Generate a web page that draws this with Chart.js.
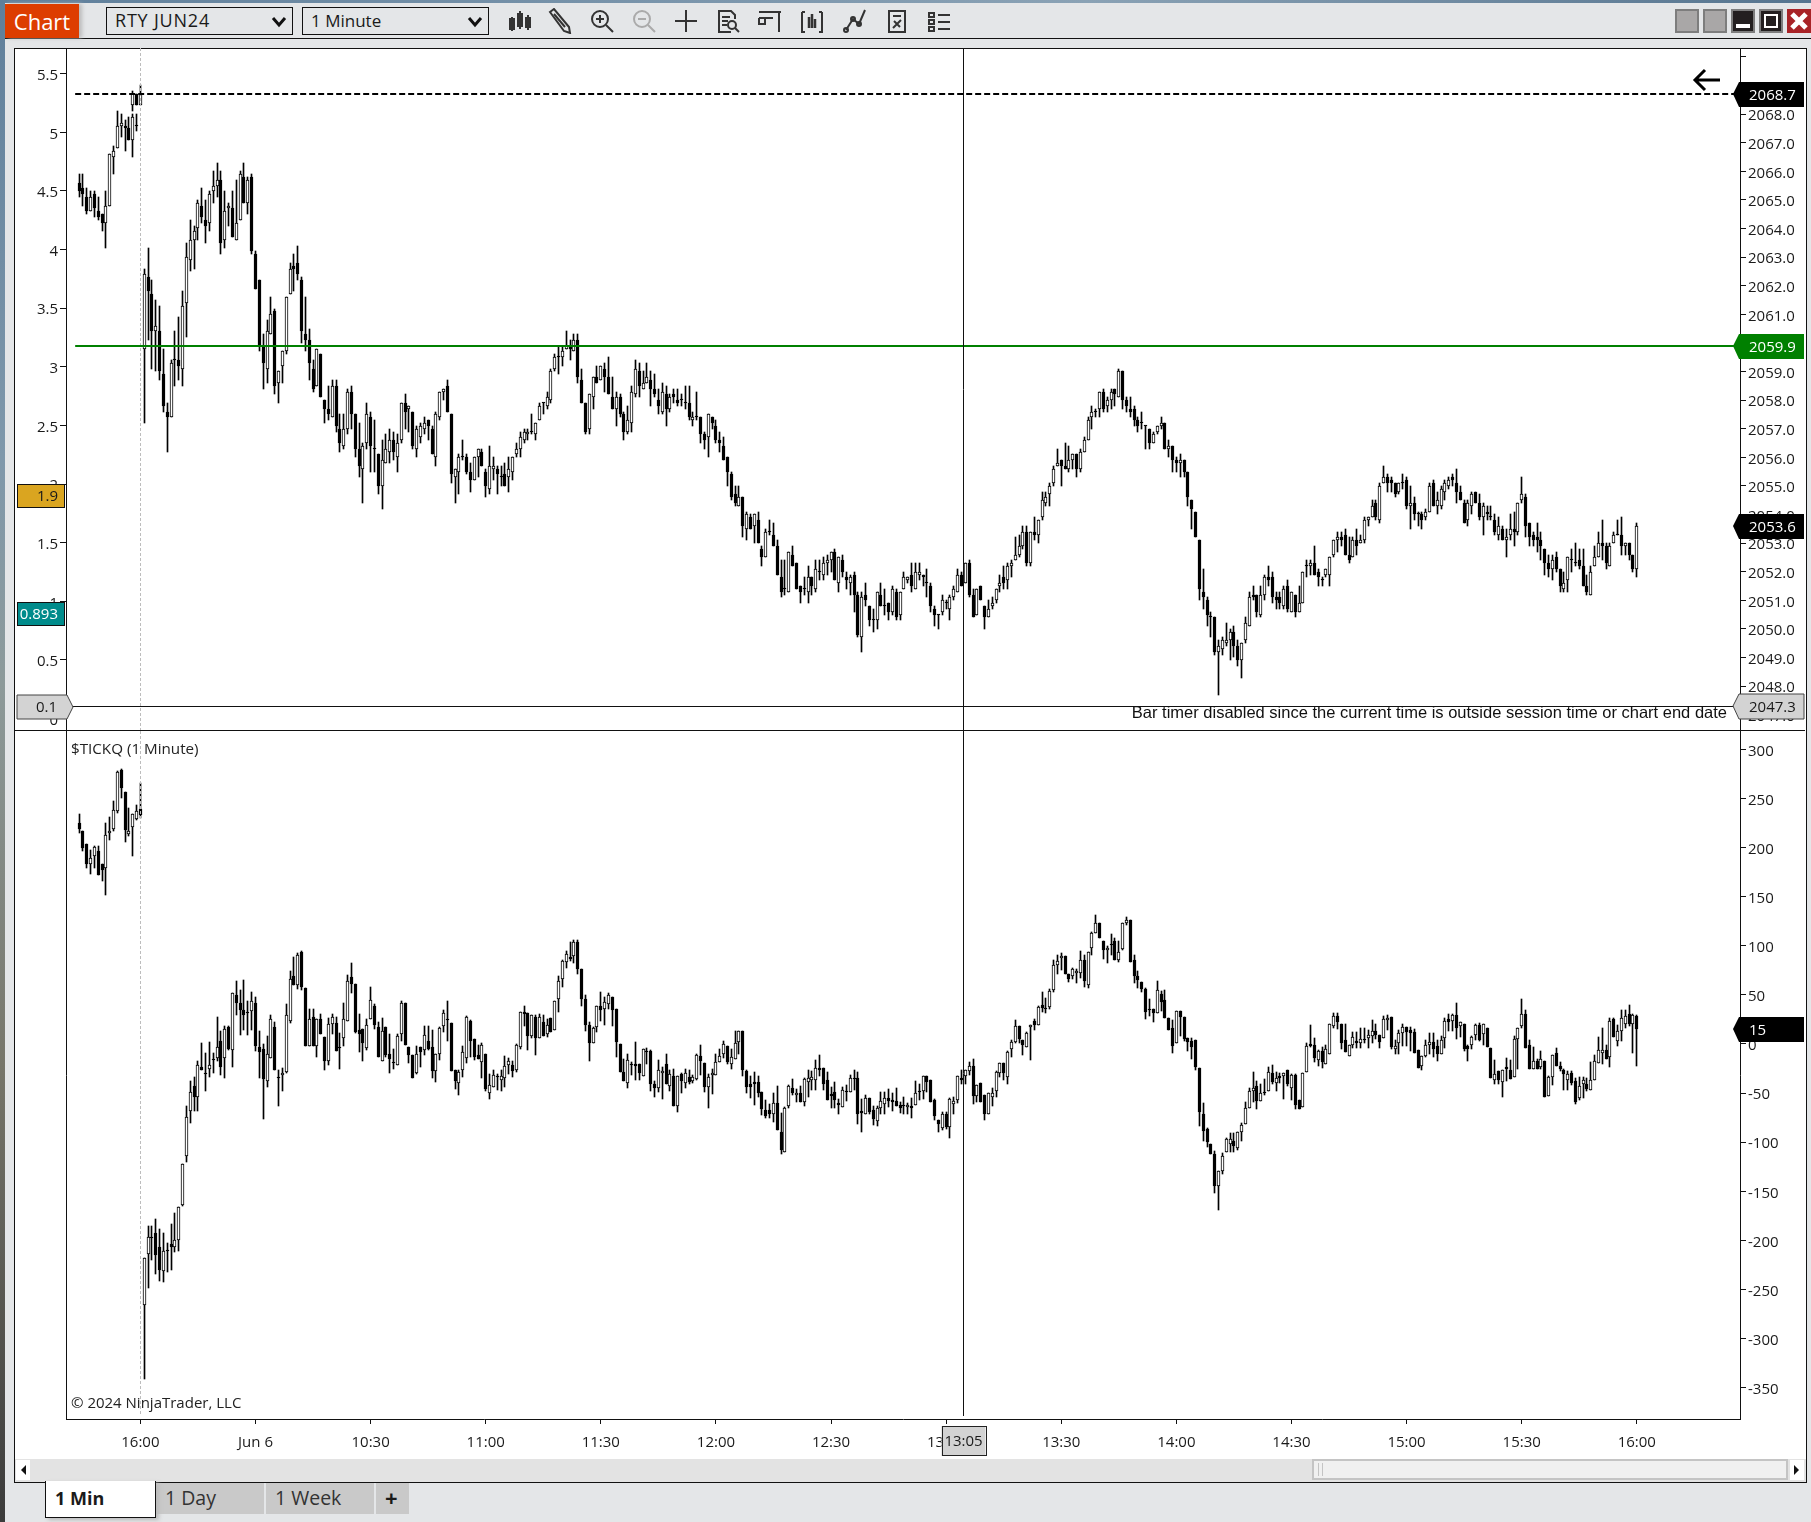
<!DOCTYPE html>
<html>
<head>
<meta charset="utf-8">
<title>RTY JUN24</title>
<script src="https://cdn.jsdelivr.net/npm/chart.js@4"></script>
<style>
html, body { margin: 0; padding: 0; }
body { width: 1811px; height: 1522px; position: relative; overflow: hidden; background: #e4e6e8; font-family: "Open Sans", sans-serif; color: #1a1a1a; }
.abs { position: absolute; box-sizing: border-box; }
#edgeLeft { left: 0; top: 0; width: 5px; height: 1522px; background: linear-gradient(#5f7f9b, #7f98ab 30%, #8d9a9a 45%, #77766a 70%, #3b3b3b); }
#edgeTop { left: 0; top: 0; width: 1811px; height: 3px; background: linear-gradient(90deg, #5f7f9b, #8aa2b5 60%, #55748f); }
#toolLine { left: 5px; top: 38px; width: 1806px; height: 1px; background: #111; }
#chartBtn { left: 5px; top: 4px; width: 74px; height: 34px; background: #dd3d00; color: #fff; font-size: 22px; line-height: 34px; text-align: center; box-shadow: 3px 0 4px #bbb; }
.pick { top: 7px; height: 28px; border: 1px solid #111; font-size: 17px; line-height: 25px; padding-left: 8px; background: #e4e6e8; }
.pick svg { position: absolute; right: 5px; top: 7px; }
#frame { left: 14px; top: 48px; width: 1793px; height: 1435px; border: 1px solid #111; background: #fff; }
#scrollBand { left: 15px; top: 1459px; width: 1791px; height: 23px; background: #e3e3e3; }
#thumb { left: 1312px; top: 1459px; width: 476px; height: 21px; background: #f0f0f0; border: 2px solid #c4c4c4; }
#thumb div { position: absolute; left: 4px; top: 2px; width: 5px; height: 13px; border-left: 1px solid #c4c4c4; border-right: 1px solid #c4c4c4; box-sizing: border-box; }
.arrowBox { top: 1460px; width: 14px; height: 20px; background: #fff; }
.arrowBox svg { position: absolute; left: 3px; top: 4px; }
.tab { top: 1483px; height: 31px; background: #c9c9c9; font-size: 19.5px; line-height: 29px; padding-left: 9px; }
#tabMin { left: 45px; top: 1481px; width: 111px; height: 37px; background: #fff; border: 1px solid #111; border-top: none; font-weight: 700; font-size: 18px; line-height: 34px; box-shadow: 3px 2px 4px #bbb; z-index: 2; }
canvas { position: absolute; }
.note { font-size: 15px; white-space: nowrap; color: #222; line-height: 18px; }
.winBtn { top: 9px; width: 24px; height: 24px; border: 2px solid #7d7d7d; }
.icon { position: absolute; top: 8px; width: 26px; height: 26px; fill: none; stroke: #333; stroke-width: 2; }
</style>
</head>
<body>
<div class="abs" id="edgeLeft"></div>
<div class="abs" id="edgeTop"></div>
<div class="abs" id="toolLine"></div>
<div class="abs" id="chartBtn">Chart</div>
<div class="abs pick" style="left:106px;width:187px;font-size:18px;letter-spacing:0.8px">RTY JUN24<svg width="16" height="14" viewBox="0 0 16 14"><path d="M2 3l6 7 6-7" fill="none" stroke="#111" stroke-width="3"/></svg></div>
<div class="abs pick" style="left:302px;width:187px">1 Minute<svg width="16" height="14" viewBox="0 0 16 14"><path d="M2 3l6 7 6-7" fill="none" stroke="#111" stroke-width="3"/></svg></div>
<svg class="icon" style="left:507px" viewBox="0 0 26 26"><path d="M5 9v14M13 3v18M21 7v15" stroke-width="2"/><path d="M3 11h4v10H3zM11 6h4v12h-4zM19 10h4v9h-4z" fill="#333"/></svg>
<svg class="icon" style="left:547px" viewBox="0 0 26 26"><path d="M3 4l4-3 15 18 1 6-6-2z" stroke-width="2"/><path d="M7 6l11 13"/></svg>
<svg class="icon" style="left:589px" viewBox="0 0 26 26"><circle cx="11" cy="11" r="8"/><path d="M17 17l7 7M7 11h8M11 7v8"/></svg>
<svg class="icon" style="left:631px;stroke:#aaa" viewBox="0 0 26 26"><circle cx="11" cy="11" r="8"/><path d="M17 17l7 7M7 11h8"/></svg>
<svg class="icon" style="left:673px" viewBox="0 0 26 26"><path d="M13 2v22M2 13h22"/></svg>
<svg class="icon" style="left:715px" viewBox="0 0 26 26"><path d="M16 24H4V3h12l4 4v4M7 9h8M7 13h6M7 17h5"/><circle cx="17" cy="17" r="4"/><path d="M20 20l4 4"/></svg>
<svg class="icon" style="left:757px" viewBox="0 0 26 26"><path d="M2 4h22M22 4v20M2 10h14M2 10v6h6v-6"/></svg>
<svg class="icon" style="left:799px" viewBox="0 0 26 26"><path d="M3 4h3M3 4v20h3M23 4h-3M23 4v20h-3"/><path d="M10 9v11M13 6v14M16 11v9" stroke-width="2.5"/></svg>
<svg class="icon" style="left:842px" viewBox="0 0 26 26"><path d="M4 22l7-11 6 5 6-14"/><circle cx="4" cy="22" r="2"/><circle cx="11" cy="11" r="2"/><circle cx="17" cy="16" r="2"/></svg>
<svg class="icon" style="left:884px" viewBox="0 0 26 26"><path d="M5 3h16v21H5zM9 8h8M9 20l8-8M10 13l6 6"/></svg>
<svg class="icon" style="left:926px" viewBox="0 0 26 26"><path d="M3 5h5v4H3zM3 12h5v4H3zM3 19h5v4H3zM12 7h12M12 14h12M12 21h12"/></svg>
<div class="abs winBtn" style="left:1675px;background:#a9a7a7"></div>
<div class="abs winBtn" style="left:1703px;background:#a9a7a7"></div>
<div class="abs winBtn" style="left:1731px;background:#231f20"><div class="abs" style="left:3px;top:13px;width:14px;height:4px;background:#fff"></div></div>
<div class="abs winBtn" style="left:1759px;background:#231f20"><div class="abs" style="left:3px;top:3px;width:14px;height:14px;border:2px solid #fff"></div></div>
<div class="abs winBtn" style="left:1787px;background:#a82327;border:none"><svg width="24" height="24" viewBox="0 0 24 24"><path d="M5 5l14 14M19 5L5 19" stroke="#fff" stroke-width="5"/></svg></div>
<div class="abs" id="frame"></div>
<div class="abs" id="scrollBand"></div>
<div class="abs" id="thumb"><div></div></div>
<div class="abs arrowBox" style="left:16px"><svg width="8" height="12" viewBox="0 0 8 12"><path d="M7 1L2 6l5 5z" fill="#111"/></svg></div>
<div class="abs arrowBox" style="left:1790px"><svg width="8" height="12" viewBox="0 0 8 12"><path d="M1 1l5 5-5 5z" fill="#111"/></svg></div>
<div class="abs tab" style="left:156px;width:108px;color:#333">1 Day</div>
<div class="abs tab" style="left:266px;width:108px;color:#333">1 Week</div>
<div class="abs tab" style="left:376px;width:33px;font-weight:700;font-size:22px;padding-left:9px">+</div>
<div class="abs tab" id="tabMin">1 Min</div>
<canvas id="priceChart" style="left:15px;top:48px" width="1790" height="683"></canvas>
<canvas id="tickChart" style="left:15px;top:731px" width="1790" height="728"></canvas>
<div class="abs note" style="left:71px;top:739px;font-size:15.2px">$TICKQ (1 Minute)</div>
<div class="abs note" style="left:71px;top:1393px">&copy; 2024 NinjaTrader, LLC</div>
<div class="abs note" style="right:84px;top:703px;font-family:'Liberation Sans',sans-serif;font-size:16.5px;color:#111">Bar timer disabled since the current time is outside session time or chart end date</div>
<svg class="abs" style="left:1692px;top:68px" width="30" height="24" viewBox="0 0 30 24"><path d="M28 12H3M13 2L3 12l10 10" fill="none" stroke="#000" stroke-width="3"/></svg>
<script>
'use strict';

// bars are [open, high, low, close], one row per minute
const rtyPrior = [
[2065.6,2065.9,2065.1,2065.3],[2065.4,2065.9,2064.8,2065.2],[2065.1,2065.4,2064.5,2064.6],[2064.6,2065.3,2064.6,2065.1],[2065.2,2065.3,2064.4,2064.7],[2064.6,2065.1,2064.3,2064.4],[2064.5,2064.5,2063.9,2064.2],[2064.2,2065.3,2063.3,2064.8],[2064.8,2066.6,2064.8,2066.6],[2066.5,2066.9,2065.9,2066.7],
[2066.8,2068.1,2066.8,2067.6],[2067.6,2068.0,2067.2,2067.7],[2067.6,2067.8,2066.7,2067.5],[2067.5,2067.9,2067.1,2067.1],[2067.1,2068.0,2066.5,2067.9],[2067.6,2068.0,2067.4,2067.6],[2068.3,2069.0,2068.3,2068.7]];
// two bars at the close overlap the ones above, same minute slots
const rtyLateSlots = [-2, -1];
const rtyLate = [[2068.3,2068.8,2068.1,2068.7],[2068.7,2068.7,2068.3,2068.3]];

const rtyMorning = [
[2059.8,2062.6,2057.2,2062.4],[2062.3,2063.3,2060.1,2061.8],[2061.7,2062.2,2059.1,2060.4],[2060.4,2061.5,2059.0,2060.6],[2060.4,2061.3,2058.7,2059.0],[2058.9,2059.8,2057.6,2057.8],[2057.6,2057.9,2056.2,2057.4],[2057.4,2059.4,2057.4,2059.3],[2059.4,2060.4,2058.5,2059.4],[2059.4,2060.9,2058.7,2059.2],
[2059.1,2061.8,2058.5,2061.3],[2061.4,2063.5,2060.2,2063.0],[2062.9,2064.3,2062.5,2063.6],[2063.6,2064.1,2062.6,2063.9],[2064.0,2065.0,2063.6,2064.9],[2064.8,2065.4,2064.2,2064.4],[2064.3,2065.0,2063.5,2064.1],[2064.2,2065.3,2063.9,2065.2],[2065.3,2066.0,2064.9,2065.5],[2065.5,2066.3,2065.1,2065.7],
[2065.7,2066.0,2063.1,2063.5],[2063.6,2065.3,2063.3,2064.6],[2064.7,2064.9,2064.1,2064.8],[2064.7,2065.3,2063.7,2063.7],[2063.6,2065.7,2063.6,2064.2],[2064.3,2066.0,2064.3,2065.9],[2065.8,2066.3,2064.9,2064.9],[2064.9,2065.8,2064.5,2065.7],[2065.8,2065.9,2063.1,2063.2],[2063.1,2063.2,2061.9,2061.9],
[2062.2,2062.2,2059.7,2059.9],[2059.9,2060.3,2058.4,2059.3],[2059.1,2060.8,2058.6,2060.4],[2060.3,2061.6,2060.3,2061.0],[2061.1,2061.2,2058.2,2058.5],[2058.6,2059.0,2057.9,2059.0],[2059.2,2059.7,2058.6,2059.7],[2059.7,2061.6,2059.6,2061.6],[2061.7,2062.8,2061.7,2062.6],[2062.7,2063.1,2061.8,2062.6],
[2062.8,2063.4,2062.2,2062.4],[2062.2,2062.3,2060.0,2060.4],[2060.3,2061.6,2059.7,2060.1],[2060.1,2060.5,2058.7,2059.3],[2059.1,2059.4,2058.3,2058.4],[2058.5,2059.8,2058.5,2059.8],[2059.6,2059.6,2058.1,2058.1],[2058.0,2058.0,2057.2,2057.7],[2057.7,2058.5,2057.3,2057.5],[2057.4,2058.7,2057.4,2058.5],
[2058.5,2058.7,2056.9,2057.1],[2057.0,2057.5,2056.2,2056.5],[2056.4,2057.5,2056.3,2057.0],[2057.0,2058.4,2056.8,2058.3],[2058.3,2058.5,2057.0,2057.5],[2057.5,2057.5,2056.0,2056.3],[2056.3,2057.2,2055.3,2055.7],[2055.6,2056.5,2054.4,2056.4],[2056.5,2057.9,2056.3,2057.5],[2057.4,2057.6,2055.5,2056.4],
[2056.3,2057.3,2055.5,2056.3],[2056.1,2056.1,2054.7,2055.0],[2055.0,2056.6,2054.2,2055.9],[2055.8,2056.8,2055.8,2056.3],[2056.2,2057.0,2055.8,2056.6],[2056.6,2056.9,2055.9,2056.2],[2056.0,2056.8,2055.5,2056.5],[2056.6,2057.9,2056.5,2057.9],[2057.9,2058.2,2057.0,2057.6],[2057.7,2057.8,2056.9,2057.8],
[2057.6,2057.6,2056.3,2056.4],[2056.3,2057.1,2056.0,2057.0],[2056.7,2057.2,2056.5,2057.1],[2057.0,2057.4,2056.8,2057.2],[2057.3,2057.3,2056.6,2057.1],[2057.0,2057.1,2056.1,2056.1],[2056.0,2057.6,2055.7,2057.5],[2057.4,2058.3,2057.3,2058.3],[2058.3,2058.4,2058.0,2058.4],[2058.5,2058.7,2057.6,2057.6],
[2057.5,2057.5,2055.1,2055.4],[2055.3,2055.6,2054.4,2055.6],[2055.5,2056.1,2054.7,2056.0],[2056.0,2056.6,2055.9,2056.0],[2056.0,2056.1,2055.4,2055.5],[2055.5,2055.8,2054.8,2055.2],[2055.2,2056.0,2055.2,2056.0],[2056.0,2056.3,2055.3,2056.3],[2056.2,2056.3,2055.7,2055.7],[2055.5,2055.6,2054.6,2055.0],
[2054.9,2056.4,2054.7,2055.7],[2055.6,2056.0,2055.2,2055.7],[2055.6,2055.7,2054.7,2055.4],[2055.3,2055.7,2055.0,2055.3],[2055.4,2055.8,2055.0,2055.0],[2055.3,2056.0,2054.8,2055.6],[2055.5,2056.0,2055.2,2056.0],[2056.1,2056.5,2056.0,2056.3],[2056.3,2056.9,2056.0,2056.7],[2056.6,2057.0,2056.5,2056.9],
[2056.8,2057.0,2056.6,2056.9],[2056.9,2057.5,2056.8,2056.9],[2056.8,2057.2,2056.6,2057.2],[2057.3,2057.9,2057.3,2057.8],[2057.9,2057.9,2057.5,2057.9],[2057.8,2058.3,2057.7,2058.1],[2058.0,2059.1,2057.9,2059.0],[2059.1,2059.6,2059.0,2059.5],[2059.5,2059.9,2058.9,2059.5],[2059.5,2059.9,2059.2,2059.7],
[2059.8,2060.4,2059.8,2059.9],[2059.9,2060.1,2059.4,2059.8],[2059.7,2060.3,2059.7,2060.1],[2060.1,2060.3,2058.6,2058.8],[2058.7,2059.1,2057.9,2057.9],[2057.9,2057.9,2056.8,2056.9],[2057.0,2058.2,2056.8,2058.2],[2058.1,2058.8,2057.7,2058.8],[2058.8,2059.2,2058.6,2058.6],[2058.7,2059.2,2058.7,2059.2]];

const rtyMidday = [
[2059.1,2059.3,2058.3,2058.8],[2058.8,2059.5,2058.2,2058.2],[2058.1,2058.8,2057.7,2057.7],[2057.7,2058.3,2057.1,2058.1],[2058.1,2058.2,2057.4,2057.5],[2057.5,2057.6,2056.6,2056.9],[2056.9,2057.8,2056.8,2057.3],[2057.2,2058.5,2056.9,2058.3],[2058.2,2059.4,2058.1,2059.1],[2059.0,2059.3,2058.1,2058.5],
[2058.4,2059.0,2058.4,2058.6],[2058.6,2059.3,2058.6,2058.8],[2058.7,2059.0,2057.8,2058.4],[2058.4,2058.9,2058.1,2058.2],[2058.0,2058.4,2057.5,2057.8],[2057.6,2058.6,2057.5,2058.3],[2058.2,2058.5,2057.1,2057.7],[2057.7,2058.2,2057.6,2058.1],[2058.2,2058.4,2057.9,2058.1],[2058.0,2058.4,2057.8,2057.9],
[2058.0,2058.2,2057.8,2058.0],[2057.9,2058.5,2057.7,2057.9],[2057.9,2058.5,2057.3,2057.4],[2057.3,2057.6,2057.1,2057.4],[2057.4,2058.3,2057.3,2057.4],[2057.4,2057.4,2056.5,2056.8],[2056.8,2056.9,2056.3,2056.6],[2056.7,2057.5,2056.0,2057.5],[2057.4,2057.4,2057.0,2057.2],[2057.1,2057.3,2056.5,2056.6],
[2056.6,2056.9,2056.2,2056.5],[2056.4,2056.7,2055.9,2055.9],[2056.0,2056.0,2055.0,2055.5],[2055.4,2055.5,2054.5,2054.6],[2054.7,2055.0,2054.3,2054.4],[2054.3,2055.0,2054.3,2054.6],[2054.6,2054.6,2053.2,2053.6],[2053.5,2054.1,2053.1,2054.0],[2053.9,2054.0,2053.5,2053.5],[2053.6,2054.0,2053.0,2054.0],
[2053.8,2054.1,2053.0,2053.0],[2052.8,2052.9,2052.2,2052.5],[2052.5,2053.5,2052.5,2053.4],[2053.4,2053.8,2053.3,2053.4],[2053.3,2053.7,2052.9,2052.9],[2052.9,2053.1,2051.9,2051.9],[2051.8,2052.4,2051.1,2051.3],[2051.4,2052.4,2051.2,2051.4],[2051.3,2052.7,2051.3,2052.7],[2052.6,2052.9,2052.2,2052.2],
[2052.3,2052.3,2051.4,2051.4],[2051.5,2051.5,2050.9,2051.3],[2051.4,2051.8,2051.2,2051.4],[2051.3,2052.2,2050.9,2051.8],[2051.8,2051.8,2051.2,2051.5],[2051.4,2052.4,2051.3,2052.1],[2052.0,2052.4,2051.7,2052.0],[2051.9,2052.5,2051.7,2052.3],[2052.3,2052.6,2051.9,2052.4],[2052.4,2052.7,2052.0,2052.7],
[2052.7,2052.8,2051.7,2051.7],[2051.6,2052.5,2051.3,2052.5],[2052.4,2052.6,2051.8,2052.0],[2051.8,2052.0,2051.4,2051.7],[2051.6,2051.9,2051.2,2051.8],[2051.9,2052.0,2050.6,2051.2],[2051.2,2051.3,2049.7,2049.8],[2049.7,2051.3,2049.2,2051.1],[2051.2,2051.6,2050.8,2051.0],[2050.8,2050.8,2050.1,2050.3],
[2050.3,2050.7,2049.9,2050.3],[2050.3,2051.3,2050.0,2051.3],[2051.2,2051.6,2050.8,2050.8],[2050.8,2051.4,2050.5,2050.8],[2050.9,2050.9,2050.3,2050.6],[2050.6,2051.5,2050.5,2051.4],[2051.3,2051.4,2050.3,2050.4],[2050.5,2051.3,2050.3,2051.3],[2051.4,2052.0,2051.4,2051.8],[2051.7,2051.8,2051.6,2051.8],
[2051.9,2052.3,2051.3,2051.5],[2051.4,2052.3,2051.4,2052.0],[2051.9,2052.3,2051.7,2052.0],[2051.9,2051.9,2051.5,2051.8],[2051.6,2052.1,2051.1,2051.6],[2051.5,2051.6,2050.6,2050.8],[2050.7,2050.8,2050.1,2050.5],[2050.5,2050.5,2050.0,2050.5],[2050.6,2051.2,2050.5,2051.0],[2050.9,2051.0,2050.7,2050.9],
[2050.7,2051.2,2050.3,2051.1],[2051.1,2051.5,2051.0,2051.4],[2051.3,2052.1,2051.3,2051.9],[2051.9,2052.0,2051.5,2051.5],[2051.6,2052.3,2051.6,2052.3],[2052.3,2052.4,2051.1,2051.2],[2051.2,2051.4,2050.4,2050.4],[2050.5,2051.4,2050.5,2051.4],[2051.5,2051.5,2051.0,2051.0],[2050.8,2050.8,2050.0,2050.4],
[2050.4,2051.0,2050.4,2050.7],[2050.8,2051.1,2050.7,2050.9],[2051.0,2051.4,2050.9,2051.4],[2051.5,2051.9,2051.3,2051.6],[2051.8,2052.2,2051.4,2051.6],[2051.7,2052.3,2051.4,2052.2],[2052.2,2052.4,2051.8,2052.3],[2052.4,2053.2,2052.4,2052.6],[2052.6,2053.3,2052.5,2052.9],[2052.9,2053.6,2052.8,2053.4],
[2053.4,2053.6,2052.2,2052.3],[2052.3,2053.4,2052.2,2053.4],[2053.4,2053.9,2053.1,2053.3],[2053.3,2053.8,2053.0,2053.8],[2053.9,2054.8,2053.8,2054.5],[2054.4,2054.8,2054.3,2054.6],[2054.7,2055.1,2054.3,2055.0],[2055.1,2055.7,2055.0,2055.6],[2055.7,2056.3,2055.7,2055.8],[2055.9,2055.9,2055.0,2055.7],
[2055.7,2056.5,2055.6,2055.6],[2055.6,2056.4,2055.5,2055.9],[2055.9,2056.1,2055.6,2056.1],[2056.1,2056.1,2055.3,2055.6],[2055.6,2056.3,2055.5,2056.2],[2056.2,2056.7,2056.2,2056.6],[2056.6,2057.4,2056.6,2057.3],[2057.4,2057.8,2057.0,2057.6],[2057.6,2057.7,2057.4,2057.6],[2057.7,2058.3,2057.4,2058.3]];

const rtyAfternoon = [
[2058.3,2058.4,2057.6,2057.7],[2057.8,2058.1,2057.6,2058.0],[2058.0,2058.4,2057.7,2058.3],[2058.4,2058.4,2057.8,2058.2],[2058.1,2059.1,2058.1,2059.0],[2059.0,2059.0,2057.7,2058.0],[2058.0,2058.1,2057.6,2057.8],[2057.7,2058.1,2057.4,2057.6],[2057.7,2057.8,2057.1,2057.3],[2057.3,2057.4,2056.9,2057.1],
[2057.2,2057.6,2057.0,2057.2],[2057.1,2057.1,2056.3,2057.1],[2057.0,2057.0,2056.3,2056.5],[2056.5,2056.9,2056.5,2056.8],[2056.9,2057.1,2056.8,2057.1],[2057.1,2057.4,2057.0,2057.2],[2057.2,2057.2,2056.3,2056.3],[2056.3,2056.6,2056.0,2056.4],[2056.4,2056.4,2055.5,2055.9],[2055.9,2056.0,2055.5,2055.8],
[2055.8,2056.1,2055.3,2055.9],[2055.9,2055.9,2055.3,2055.5],[2055.5,2055.5,2054.3,2054.6],[2054.5,2054.5,2053.5,2054.2],[2054.1,2054.1,2053.2,2053.2],[2053.1,2053.1,2051.0,2051.4],[2051.3,2052.1,2050.7,2051.1],[2051.0,2051.1,2050.1,2050.5],[2050.4,2050.6,2049.7,2050.4],[2050.4,2050.4,2049.1,2049.2],
[2049.2,2049.6,2047.7,2049.4],[2049.3,2049.7,2049.1,2049.6],[2049.5,2050.2,2049.4,2049.6],[2049.6,2050.0,2048.9,2049.9],[2049.9,2050.1,2049.0,2049.4],[2049.4,2049.6,2048.7,2048.9],[2048.9,2049.5,2048.3,2049.5],[2049.6,2050.4,2049.5,2050.2],[2050.1,2051.3,2050.1,2051.1],[2051.2,2051.5,2051.0,2051.1],
[2051.2,2051.2,2050.4,2050.6],[2050.5,2051.5,2050.4,2051.2],[2051.2,2051.9,2051.0,2051.8],[2051.8,2052.2,2051.5,2051.7],[2051.8,2052.0,2050.9,2051.1],[2051.1,2051.3,2050.7,2051.0],[2051.1,2051.3,2050.7,2050.9],[2050.8,2051.5,2050.7,2051.4],[2051.5,2051.7,2050.6,2050.7],[2050.6,2051.3,2050.6,2051.3],
[2051.2,2051.2,2050.4,2050.6],[2050.6,2051.5,2050.6,2050.9],[2050.9,2052.0,2050.9,2052.0],[2052.2,2052.4,2051.8,2052.2],[2052.2,2052.4,2051.9,2052.3],[2052.3,2052.9,2051.9,2051.9],[2052.0,2052.1,2051.5,2051.8],[2051.7,2051.8,2051.5,2051.7],[2051.9,2052.1,2051.8,2052.1],[2051.9,2052.5,2051.5,2052.5],
[2052.6,2053.1,2052.5,2053.1],[2053.1,2053.4,2052.7,2053.2],[2053.2,2053.4,2052.9,2053.1],[2053.3,2053.5,2052.6,2052.6],[2052.6,2053.2,2052.3,2052.4],[2052.5,2053.2,2052.5,2053.1],[2053.1,2053.5,2052.6,2052.9],[2053.0,2053.3,2053.0,2053.1],[2053.1,2053.9,2053.0,2053.8],[2053.8,2053.9,2053.6,2053.9],
[2053.9,2054.5,2053.9,2054.3],[2054.4,2054.5,2053.8,2053.9],[2053.8,2055.1,2053.7,2055.0],[2055.1,2055.7,2055.1,2055.3],[2055.3,2055.4,2054.8,2055.1],[2055.2,2055.3,2054.8,2055.1],[2055.1,2055.1,2054.6,2054.7],[2054.8,2055.1,2054.7,2055.1],[2055.1,2055.4,2054.9,2055.1],[2055.2,2055.3,2054.2,2054.3],
[2054.3,2055.0,2053.5,2054.4],[2054.4,2054.6,2053.8,2054.0],[2054.0,2054.1,2053.6,2054.0],[2054.0,2054.1,2053.5,2053.8],[2053.9,2054.2,2053.8,2054.1],[2054.1,2055.1,2054.1,2055.0],[2055.1,2055.2,2054.3,2054.3],[2054.3,2054.8,2054.0,2054.5],[2054.3,2055.0,2054.2,2054.9],[2054.8,2055.2,2054.5,2055.1],
[2055.0,2055.3,2054.9,2055.2],[2055.3,2055.4,2055.0,2055.2],[2055.1,2055.6,2054.4,2054.8],[2054.8,2055.0,2054.5,2054.5],[2054.4,2054.5,2053.7,2053.7],[2053.8,2054.5,2053.6,2054.4],[2054.3,2054.8,2054.0,2054.7],[2054.8,2054.8,2054.4,2054.4],[2054.4,2054.7,2053.8,2053.9],[2053.9,2054.4,2053.3,2054.3],
[2054.1,2054.3,2053.8,2054.0],[2053.9,2054.3,2053.8,2053.9],[2053.8,2054.0,2053.3,2053.4],[2053.3,2053.9,2053.1,2053.6],[2053.5,2053.6,2053.1,2053.1],[2053.1,2053.5,2052.5,2053.2],[2053.3,2054.0,2053.1,2053.5],[2053.5,2054.1,2052.9,2053.4],[2053.4,2054.4,2053.3,2054.4],[2054.5,2055.3,2054.4,2054.7],
[2054.6,2054.7,2053.2,2053.6],[2053.7,2053.7,2052.9,2053.2],[2053.3,2053.4,2052.9,2053.1],[2053.2,2053.7,2052.7,2053.1],[2053.1,2053.4,2052.4,2052.9],[2052.8,2052.8,2051.9,2052.3],[2052.3,2052.6,2051.8,2052.1],[2052.1,2052.6,2051.7,2052.4],[2052.5,2052.7,2052.0,2052.1],[2052.1,2052.1,2051.3,2051.5],
[2051.4,2052.0,2051.3,2051.6],[2051.7,2052.5,2051.3,2052.5],[2052.4,2052.8,2052.0,2052.4],[2052.3,2053.0,2052.2,2052.3],[2052.4,2052.8,2052.1,2052.2],[2052.2,2052.8,2051.5,2051.5],[2051.5,2051.9,2051.2,2051.3],[2051.2,2052.2,2051.2,2052.0],[2052.2,2052.9,2052.2,2052.5],[2052.5,2053.4,2052.5,2053.0],
[2053.0,2053.8,2052.4,2052.9],[2052.9,2053.0,2052.1,2052.3],[2052.2,2053.0,2052.2,2052.9],[2053.0,2053.4,2053.0,2053.3],[2053.3,2053.8,2053.3,2053.3],[2053.3,2053.9,2052.6,2052.9],[2052.9,2053.0,2052.6,2053.0],[2053.0,2053.0,2052.4,2052.6],[2052.6,2052.6,2052.0,2052.1],[2052.1,2053.7,2051.8,2053.6]];

const tickPrior = [
[225,234,215,219],[217,217,196,200],[204,204,179,183],[183,198,173,189],[191,202,179,201],[197,202,172,172],[183,183,166,177],[179,225,152,213],[215,231,208,217],[219,247,217,238],
[237,278,235,277],[279,280,250,261],[257,257,206,218],[214,240,212,217],[221,234,191,234],[229,243,228,237],[239,266,230,233]];

const tickMorning = [
[-266,-218,-341,-218],[-214,-185,-248,-197],[-197,-185,-220,-197],[-192,-178,-234,-215],[-207,-188,-241,-230],[-231,-193,-242,-211],[-210,-203,-232,-210],[-204,-183,-230,-207],[-207,-172,-212,-200],[-200,-166,-211,-166],
[-164,-122,-165,-122],[-114,-63,-120,-74],[-68,-38,-80,-49],[-43,-34,-68,-54],[-54,-17,-68,-21],[-23,1,-27,-27],[-30,-9,-48,-30],[-25,2,-34,-21],[-15,-9,-30,-15],[-14,27,-17,-3],
[3,13,-32,-23],[-14,18,-35,15],[17,18,-6,-5],[-6,52,-23,52],[50,64,29,42],[42,55,9,35],[35,65,14,30],[33,44,9,33],[34,53,14,44],[42,48,-7,-2],
[-3,13,-35,-8],[-5,0,-76,-36],[-38,8,-44,-10],[-14,29,-14,25],[17,22,-27,-27],[-34,-26,-63,-34],[-32,-24,-48,-30],[-29,41,-30,30],[23,74,21,66],[69,89,60,60],
[60,93,56,91],[94,95,55,58],[57,57,-2,-2],[-2,36,-2,25],[27,36,-2,-2],[-2,25,-13,25],[25,31,10,10],[7,7,-27,-17],[-17,26,-21,20],[20,31,10,27],
[21,27,-7,-7],[-3,11,-25,-3],[6,42,-2,25],[23,70,23,64],[68,82,52,61],[61,61,11,12],[14,31,-8,10],[15,15,-17,0],[-4,25,-6,19],[25,58,25,45],
[39,41,15,19],[17,22,-13,-13],[-17,26,-17,13],[17,17,-13,-11],[-10,10,-30,-15],[-18,-5,-25,-18],[-21,10,-21,8],[10,44,3,42],[42,42,-1,-1],[-3,-3,-19,-11],
[-11,-11,-35,-35],[-30,-2,-31,-10],[-3,-3,-23,-8],[-6,18,-11,9],[3,18,-6,-5],[-3,14,-35,-28],[-28,-10,-39,-10],[-10,17,-16,16],[18,35,12,32],[25,44,3,25],
[21,21,-28,-28],[-26,-26,-46,-38],[-40,-27,-52,-29],[-27,-2,-34,-8],[-14,28,-19,27],[23,24,-13,3],[5,5,-16,-13],[-11,-1,-15,-15],[-18,1,-35,-1],[-10,-10,-48,-46],
[-50,-31,-56,-42],[-44,-26,-44,-32],[-33,-31,-47,-33],[-37,-26,-48,-33],[-35,-12,-44,-22],[-21,-14,-31,-17],[-21,-17,-34,-28],[-27,0,-29,-1],[-3,33,-5,33],[33,39,18,31],
[32,32,-6,8],[8,30,6,29],[27,29,-11,6],[6,31,6,27],[22,29,8,8],[10,25,7,19],[26,26,12,12],[14,44,14,44],[46,69,33,64],[66,85,58,84],
[83,95,77,92],[89,104,84,87],[90,106,82,104],[104,106,71,76],[76,76,39,46],[46,50,13,19],[19,22,-17,1],[1,17,1,16],[17,39,12,39],[39,53,23,35]];

const tickMidday = [
[36,48,19,43],[41,52,36,50],[48,48,18,35],[36,36,-13,2],[0,0,-29,-29],[-29,-15,-38,-38],[-40,-10,-45,-16],[-20,-18,-32,-20],[-20,2,-37,-22],[-20,-20,-37,-30],
[-33,-5,-33,-5],[-7,-4,-20,-7],[-7,-6,-48,-41],[-41,-38,-54,-45],[-45,-16,-49,-27],[-30,-23,-56,-28],[-20,-10,-41,-41],[-43,-27,-48,-31],[-33,-25,-63,-63],[-63,-33,-69,-33],
[-31,-30,-50,-38],[-40,-25,-45,-30],[-34,-27,-41,-39],[-38,-32,-40,-34],[-36,-10,-37,-11],[-12,-1,-32,-17],[-19,-19,-49,-44],[-44,-31,-65,-34],[-32,-25,-51,-30],[-32,-10,-32,-18],
[-18,-5,-18,-12],[-10,3,-14,0],[-2,-2,-20,-18],[-20,-5,-25,-13],[-15,13,-15,1],[2,13,-10,13],[13,13,-33,-26],[-28,-27,-50,-44],[-41,-33,-55,-44],[-39,-29,-62,-41],
[-39,-33,-54,-50],[-49,-49,-72,-66],[-67,-57,-75,-73],[-67,-61,-75,-71],[-71,-50,-79,-60],[-60,-43,-88,-88],[-90,-70,-112,-108],[-110,-64,-110,-65],[-63,-42,-65,-43],[-45,-36,-52,-50],
[-52,-46,-59,-50],[-50,-43,-59,-59],[-59,-35,-63,-36],[-39,-27,-54,-35],[-37,-28,-47,-34],[-37,-16,-47,-24],[-24,-11,-33,-27],[-24,-24,-47,-41],[-37,-29,-57,-57],[-51,-44,-65,-53],
[-49,-39,-65,-57],[-60,-56,-71,-62],[-64,-44,-64,-47],[-48,-42,-58,-48],[-49,-32,-49,-35],[-35,-27,-47,-35],[-35,-29,-81,-71],[-68,-56,-90,-70],[-71,-52,-71,-55],[-55,-55,-71,-69],
[-67,-63,-83,-76],[-78,-63,-84,-65],[-65,-49,-71,-58],[-61,-49,-71,-55],[-55,-46,-64,-58],[-57,-50,-68,-59],[-58,-45,-63,-63],[-62,-59,-70,-65],[-62,-54,-71,-62],[-64,-60,-71,-62],
[-63,-55,-75,-65],[-62,-38,-62,-50],[-48,-41,-57,-48],[-48,-33,-56,-33],[-33,-33,-49,-39],[-37,-37,-59,-59],[-57,-56,-77,-73],[-77,-77,-90,-82],[-86,-69,-88,-71],[-71,-69,-87,-85],
[-85,-55,-96,-56],[-61,-54,-71,-58],[-57,-33,-60,-33],[-35,-27,-41,-37],[-33,-26,-41,-27],[-28,-18,-32,-22],[-22,-15,-61,-53],[-53,-42,-59,-42],[-40,-40,-59,-59],[-52,-52,-77,-71],
[-71,-50,-71,-50],[-54,-45,-63,-50],[-48,-28,-54,-29],[-30,-19,-34,-19],[-19,-19,-37,-30],[-34,-7,-41,-8],[-5,4,-13,2],[2,24,1,18],[18,18,1,5],[4,4,-11,-1],
[-3,12,-3,11],[17,19,-16,19],[23,25,14,19],[19,39,19,38],[40,53,33,37],[37,47,32,36],[38,56,36,54],[55,85,53,80],[80,91,71,84],[88,93,75,90],
[90,90,71,71],[71,71,63,66],[69,77,66,76],[72,76,62,74],[72,95,67,85],[85,91,58,64],[60,94,57,94],[98,114,91,113],[113,131,113,123],[123,123,108,108]];

const tickAfternoon = [
[105,105,87,96],[96,100,82,98],[102,112,91,102],[105,108,85,85],[85,105,83,94],[97,123,96,123],[123,129,121,126],[126,126,83,83],[85,91,62,69],[69,74,57,65],
[63,63,53,56],[56,57,25,33],[36,46,28,36],[36,36,22,32],[32,64,32,55],[51,54,34,43],[45,55,26,26],[26,26,14,14],[16,24,-9,-2],[0,34,0,34],
[34,34,8,27],[27,27,3,5],[6,6,-7,2],[3,6,-15,-3],[4,4,-27,-23],[-24,-24,-84,-69],[-71,-60,-99,-89],[-87,-86,-105,-100],[-102,-102,-112,-112],[-112,-109,-152,-145],
[-145,-129,-169,-129],[-129,-111,-132,-114],[-110,-96,-110,-97],[-102,-91,-110,-97],[-99,-91,-110,-104],[-106,-90,-108,-90],[-90,-80,-99,-83],[-81,-59,-81,-65],[-65,-45,-65,-48],[-48,-29,-59,-45],
[-43,-38,-66,-58],[-58,-41,-58,-50],[-49,-36,-52,-49],[-48,-23,-48,-29],[-30,-21,-41,-39],[-40,-29,-48,-35],[-33,-30,-40,-35],[-33,-30,-56,-30],[-27,-27,-43,-41],[-45,-31,-57,-32],
[-32,-31,-66,-62],[-57,-57,-66,-66],[-64,-30,-64,-30],[-29,1,-29,-2],[0,19,-3,-2],[-1,6,-18,-14],[-16,-6,-22,-7],[-7,-3,-24,-18],[-20,-1,-20,-5],[-10,20,-10,20],
[18,32,16,28],[28,32,15,22],[20,20,-5,1],[4,20,-8,-8],[-12,-1,-12,-1],[-1,12,-4,7],[3,12,-4,0],[1,16,-4,5],[5,16,0,5],[6,14,-4,9],
[8,24,0,13],[13,20,5,9],[9,9,-4,2],[6,28,6,25],[24,29,14,26],[27,27,-5,-3],[-5,4,-10,-2],[1,14,-10,11],[11,20,-2,17],[17,17,-2,12],
[14,17,-7,11],[12,15,-9,-9],[-6,-6,-24,-24],[-22,-12,-26,-12],[-12,4,-13,-1],[-1,11,-10,2],[2,11,-13,-5],[-2,4,-17,-10],[-10,8,-10,4],[6,26,-4,23],
[25,31,13,22],[23,31,13,30],[29,42,5,16],[18,22,7,22],[20,20,-7,-5],[-2,-1,-17,-5],[-1,8,-5,7],[9,20,4,19],[19,21,3,4],[10,20,-1,20],
[16,16,-3,-3],[-4,-4,-35,-35],[-37,-16,-41,-31],[-28,-28,-41,-37],[-39,-27,-54,-27],[-23,-14,-38,-25],[-27,-16,-36,-36],[-34,8,-34,5],[5,16,-25,16],[18,46,16,31],
[31,35,-4,-4],[-1,4,-25,-25],[-25,-3,-25,-17],[-17,-15,-25,-25],[-23,-7,-25,-15],[-17,-17,-54,-54],[-53,-33,-53,-34],[-34,-11,-42,-11],[-9,-4,-22,-22],[-22,-18,-28,-25],
[-27,-25,-47,-31],[-37,-28,-47,-31],[-30,-28,-42,-40],[-38,-35,-61,-59],[-55,-34,-57,-43],[-41,-34,-55,-37],[-41,-35,-48,-46],[-47,-18,-47,-37],[-37,-11,-37,-17],[-19,7,-19,-6],
[-9,16,-20,-6],[-6,-1,-15,-15],[-13,26,-23,23],[25,26,7,7],[3,19,-2,13],[13,35,3,26],[20,35,16,28],[31,40,18,20],[20,31,-9,30],[28,30,-22,15]];

const timeSlots = [0, 30, 60, 90, 120, 150, 180, 210, 240, 270, 300, 330, 360, 390];
const timeLabels = ['16:00', 'Jun 6', '10:30', '11:00', '11:30', '12:00', '12:30', '13:00', '13:30', '14:00', '14:30', '15:00', '15:30', '16:00'];
const priceTicks = [2047, 2048, 2049, 2050, 2051, 2052, 2053, 2054, 2055, 2056, 2057, 2058, 2059, 2060, 2061, 2062, 2063, 2064, 2065, 2066, 2067, 2068, 2069, 2070];
const ratioTicks = [0, 0.5, 1, 1.5, 2, 2.5, 3, 3.5, 4, 4.5, 5, 5.5];
const tickqTicks = [-350, -300, -250, -200, -150, -100, -50, 0, 50, 100, 150, 200, 250, 300];

const lastHigh = 2068.7;
const greenLevel = 2059.9;
const lastPrice = 2053.6;
const lowLevel = 2047.3;
const goldRatio = 1.9;
const tealRatio = 0.893;
const lowRatio = 0.1;
const lastTickq = 15;
const sessionSlot = 0;
const crossSlot = 214.5;
const crossLabel = '13:05';
const lineStartSlot = -17;

const FONT = '15px "Open Sans", sans-serif';
const INK = '#1a1a1a';
const slotMin = -19.39, slotMax = 416.9;

function slotted(prior, session, lateSlots, late) {
    const rows = prior.map((b, k) => ({ slot: k - 16, bar: b }));
    session.forEach((b, k) => rows.push({ slot: k + 1, bar: b }));
    (late || []).forEach((b, k) => rows.push({ slot: lateSlots[k], bar: b }));
    return rows;
}

const rtyRows = slotted(rtyPrior, rtyMorning.concat(rtyMidday, rtyAfternoon), rtyLateSlots, rtyLate);
const tickRows = slotted(tickPrior, tickMorning.concat(tickMidday, tickAfternoon));

function candleDatasets(rows, axisId) {
    return [
        {
            type: 'bar', yAxisID: axisId, order: 1, grouped: false, barThickness: 3, minBarLength: 1,
            borderSkipped: false, borderWidth: 1, borderColor: '#000',
            backgroundColor: rows.map(r => r.bar[3] > r.bar[0] ? '#fff' : '#000'),
            data: rows.map(r => ({ x: r.slot, y: [Math.min(r.bar[0], r.bar[3]), Math.max(r.bar[0], r.bar[3])] }))
        },
        {
            type: 'bar', yAxisID: axisId, order: 2, grouped: false, barThickness: 1, minBarLength: 1,
            borderWidth: 0, backgroundColor: '#000',
            data: rows.map(r => ({ x: r.slot, y: [r.bar[2], r.bar[1]] }))
        }
    ];
}

// snap bars to whole pixels so the thin wicks stay crisp
const snapBars = {
    id: 'snapBars',
    beforeDatasetsDraw(chart) {
        chart.data.datasets.forEach((ds, i) => {
            chart.getDatasetMeta(i).data.forEach(el => {
                el.x = Math.floor(el.x) + 0.5;
                el.y = Math.round(el.y);
                el.base = Math.round(el.base);
            });
        });
    }
};

function hline(chart, y, x0, x1, color, width, dash) {
    const ctx = chart.ctx;
    ctx.save();
    ctx.beginPath();
    ctx.setLineDash(dash || []);
    ctx.strokeStyle = color;
    ctx.lineWidth = width;
    const yy = width % 2 ? Math.round(y) + 0.5 : Math.round(y);
    ctx.moveTo(x0, yy);
    ctx.lineTo(x1, yy);
    ctx.stroke();
    ctx.restore();
}

function vline(chart, slot, color, dash, bottom) {
    const ctx = chart.ctx, a = chart.chartArea;
    const x = Math.floor(chart.scales.x.getPixelForValue(slot)) + 0.5;
    ctx.save();
    ctx.beginPath();
    ctx.setLineDash(dash || []);
    ctx.strokeStyle = color;
    ctx.lineWidth = 1;
    ctx.moveTo(x, a.top);
    ctx.lineTo(x, a.bottom - (bottom || 0));
    ctx.stroke();
    ctx.restore();
}

function rightTag(chart, scale, value, text, fill, ink, stroke) {
    const ctx = chart.ctx, a = chart.chartArea;
    const y = Math.round(scale.getPixelForValue(value));
    ctx.save();
    ctx.beginPath();
    ctx.moveTo(a.right - 7, y);
    ctx.lineTo(a.right - 1, y - 12);
    ctx.lineTo(a.right + 64, y - 12);
    ctx.lineTo(a.right + 64, y + 13);
    ctx.lineTo(a.right - 1, y + 13);
    ctx.closePath();
    ctx.fillStyle = fill;
    ctx.fill();
    if (stroke) { ctx.strokeStyle = stroke; ctx.lineWidth = 1; ctx.stroke(); }
    ctx.fillStyle = ink;
    ctx.font = FONT;
    ctx.textAlign = 'left';
    ctx.textBaseline = 'middle';
    ctx.fillText(text, a.right + 9, y + 2);
    ctx.restore();
}

function leftTag(chart, scale, value, text, fill, ink) {
    const ctx = chart.ctx, a = chart.chartArea;
    const y = Math.round(scale.getPixelForValue(value));
    ctx.save();
    ctx.fillStyle = fill;
    ctx.fillRect(a.left - 49, y - 12, 48, 24);
    ctx.strokeStyle = '#111';
    ctx.lineWidth = 1;
    ctx.strokeRect(a.left - 48.5, y - 11.5, 47, 23);
    ctx.fillStyle = ink;
    ctx.font = FONT;
    ctx.textAlign = 'right';
    ctx.textBaseline = 'middle';
    ctx.fillText(text, a.left - 8, y + 1);
    ctx.restore();
}

function arrowTagLeft(chart, scale, value, text) {
    const ctx = chart.ctx, a = chart.chartArea;
    const y = Math.round(scale.getPixelForValue(value));
    ctx.save();
    ctx.beginPath();
    ctx.moveTo(a.left - 49, y - 12);
    ctx.lineTo(a.left + 1, y - 12);
    ctx.lineTo(a.left + 7, y);
    ctx.lineTo(a.left + 1, y + 12);
    ctx.lineTo(a.left - 49, y + 12);
    ctx.closePath();
    ctx.fillStyle = '#d3d3d3';
    ctx.fill();
    ctx.strokeStyle = '#444';
    ctx.lineWidth = 1;
    ctx.stroke();
    ctx.fillStyle = INK;
    ctx.font = FONT;
    ctx.textAlign = 'right';
    ctx.textBaseline = 'middle';
    ctx.fillText(text, a.left - 9, y + 1);
    ctx.restore();
}

const pricePanel = {
    id: 'pricePanel',
    afterDatasetsDraw(chart) {
        const s = chart.scales.yPrice, a = chart.chartArea;
        const xStart = chart.scales.x.getPixelForValue(lineStartSlot);
        vline(chart, sessionSlot, '#bdbdbd', [3, 2]);
        hline(chart, s.getPixelForValue(lowLevel), a.left, a.right - 6, '#111', 1);
        hline(chart, s.getPixelForValue(greenLevel), xStart, a.right - 6, '#008000', 2);
        hline(chart, s.getPixelForValue(lastHigh), xStart, a.right - 6, '#000', 2, [6, 3]);
        vline(chart, crossSlot, '#111');
    },
    afterDraw(chart) {
        const s = chart.scales.yPrice, l = chart.scales.yLeft, a = chart.chartArea;
        rightTag(chart, s, lastHigh, lastHigh.toFixed(1), '#000', '#fff');
        rightTag(chart, s, greenLevel, greenLevel.toFixed(1), '#008000', '#fff');
        rightTag(chart, s, lastPrice, lastPrice.toFixed(1), '#000', '#fff');
        rightTag(chart, s, lowLevel, lowLevel.toFixed(1), '#d3d3d3', INK, '#444');
        leftTag(chart, l, goldRatio, String(goldRatio), '#daa520', INK);
        leftTag(chart, l, tealRatio, String(tealRatio), '#008b8b', '#fff');
        arrowTagLeft(chart, l, lowRatio, String(lowRatio));
        // line between the two panels, last pixel row of this canvas
        hline(chart, a.bottom - 1, -1, a.right + 66, '#111', 1);
    }
};

const tickPanel = {
    id: 'tickPanel',
    afterDatasetsDraw(chart) {
        vline(chart, sessionSlot, '#bdbdbd', [3, 2], 3);
        vline(chart, crossSlot, '#111', null, 3);
    },
    afterDraw(chart) {
        const ctx = chart.ctx, a = chart.chartArea;
        rightTag(chart, chart.scales.yTick, lastTickq, String(lastTickq), '#000', '#fff');
        const x = Math.floor(chart.scales.x.getPixelForValue(crossSlot)) + 0.5;
        ctx.save();
        ctx.fillStyle = '#d3d3d3';
        ctx.fillRect(x - 22, a.bottom + 7, 44, 30);
        ctx.strokeStyle = '#222';
        ctx.lineWidth = 1;
        ctx.strokeRect(Math.round(x - 22) + 0.5, a.bottom + 7.5, 44, 29);
        ctx.fillStyle = INK;
        ctx.font = FONT;
        ctx.textAlign = 'center';
        ctx.textBaseline = 'middle';
        ctx.fillText(crossLabel, x, a.bottom + 23);
        ctx.restore();
    }
};

// label overflow would otherwise pull the plot area in from the canvas edges
function noPadding(scale) {
    scale.paddingTop = scale.paddingBottom = scale.paddingLeft = scale.paddingRight = 0;
}
function fixedTicks(list) { return scale => { scale.ticks = list.map(v => ({ value: v })); }; }

function yAxis(position, width, min, max, list, label) {
    return {
        position, min, max,
        afterFit: s => { s.width = width; noPadding(s); },
        afterBuildTicks: fixedTicks(list),
        border: { color: '#111', width: 1 },
        grid: { drawOnChartArea: false, drawTicks: true, tickLength: 6, color: '#111' },
        ticks: { color: INK, font: { family: '"Open Sans", sans-serif', size: 15 }, padding: 2, labelOffset: 2, autoSkip: false, callback: label }
    };
}

function xAxis(visible) {
    return {
        type: 'linear', offset: false, min: slotMin, max: slotMax, display: visible,
        afterFit: s => { s.height = visible ? 40 : 0; noPadding(s); },
        afterBuildTicks: fixedTicks(timeSlots),
        border: { color: '#111', width: 1 },
        grid: { offset: false, drawOnChartArea: false, drawTicks: true, tickLength: 5, color: '#111' },
        ticks: {
            color: INK, font: { family: '"Open Sans", sans-serif', size: 15 }, padding: 10, autoSkip: false, maxRotation: 0,
            callback: v => timeLabels[timeSlots.indexOf(v)] || ''
        }
    };
}

const baseOptions = {
    responsive: false, animation: false, events: [],
    layout: { padding: 0 },
    plugins: { legend: { display: false }, tooltip: { enabled: false } }
};

new Chart(document.getElementById('priceChart'), {
    type: 'bar',
    data: { datasets: candleDatasets(rtyRows, 'yPrice') },
    options: Object.assign({}, baseOptions, {
        scales: {
            x: xAxis(false),
            yLeft: yAxis('left', 51, -0.107, 5.72, ratioTicks, v => String(v)),
            yPrice: yAxis('right', 65, 2046.43, 2070.31, priceTicks, v => v === 2070 ? '' : v.toFixed(1))
        }
    }),
    plugins: [snapBars, pricePanel]
});

new Chart(document.getElementById('tickChart'), {
    type: 'bar',
    data: { datasets: candleDatasets(tickRows, 'yTick') },
    options: Object.assign({}, baseOptions, {
        scales: {
            x: xAxis(true),
            yGap: Object.assign(yAxis('left', 51, 0, 1, [], v => ''), { grid: { display: false }, ticks: { display: false } }),
            yTick: yAxis('right', 65, -381.9, 318.7, tickqTicks, v => String(v))
        }
    }),
    plugins: [snapBars, tickPanel]
});
</script>
</body>
</html>
